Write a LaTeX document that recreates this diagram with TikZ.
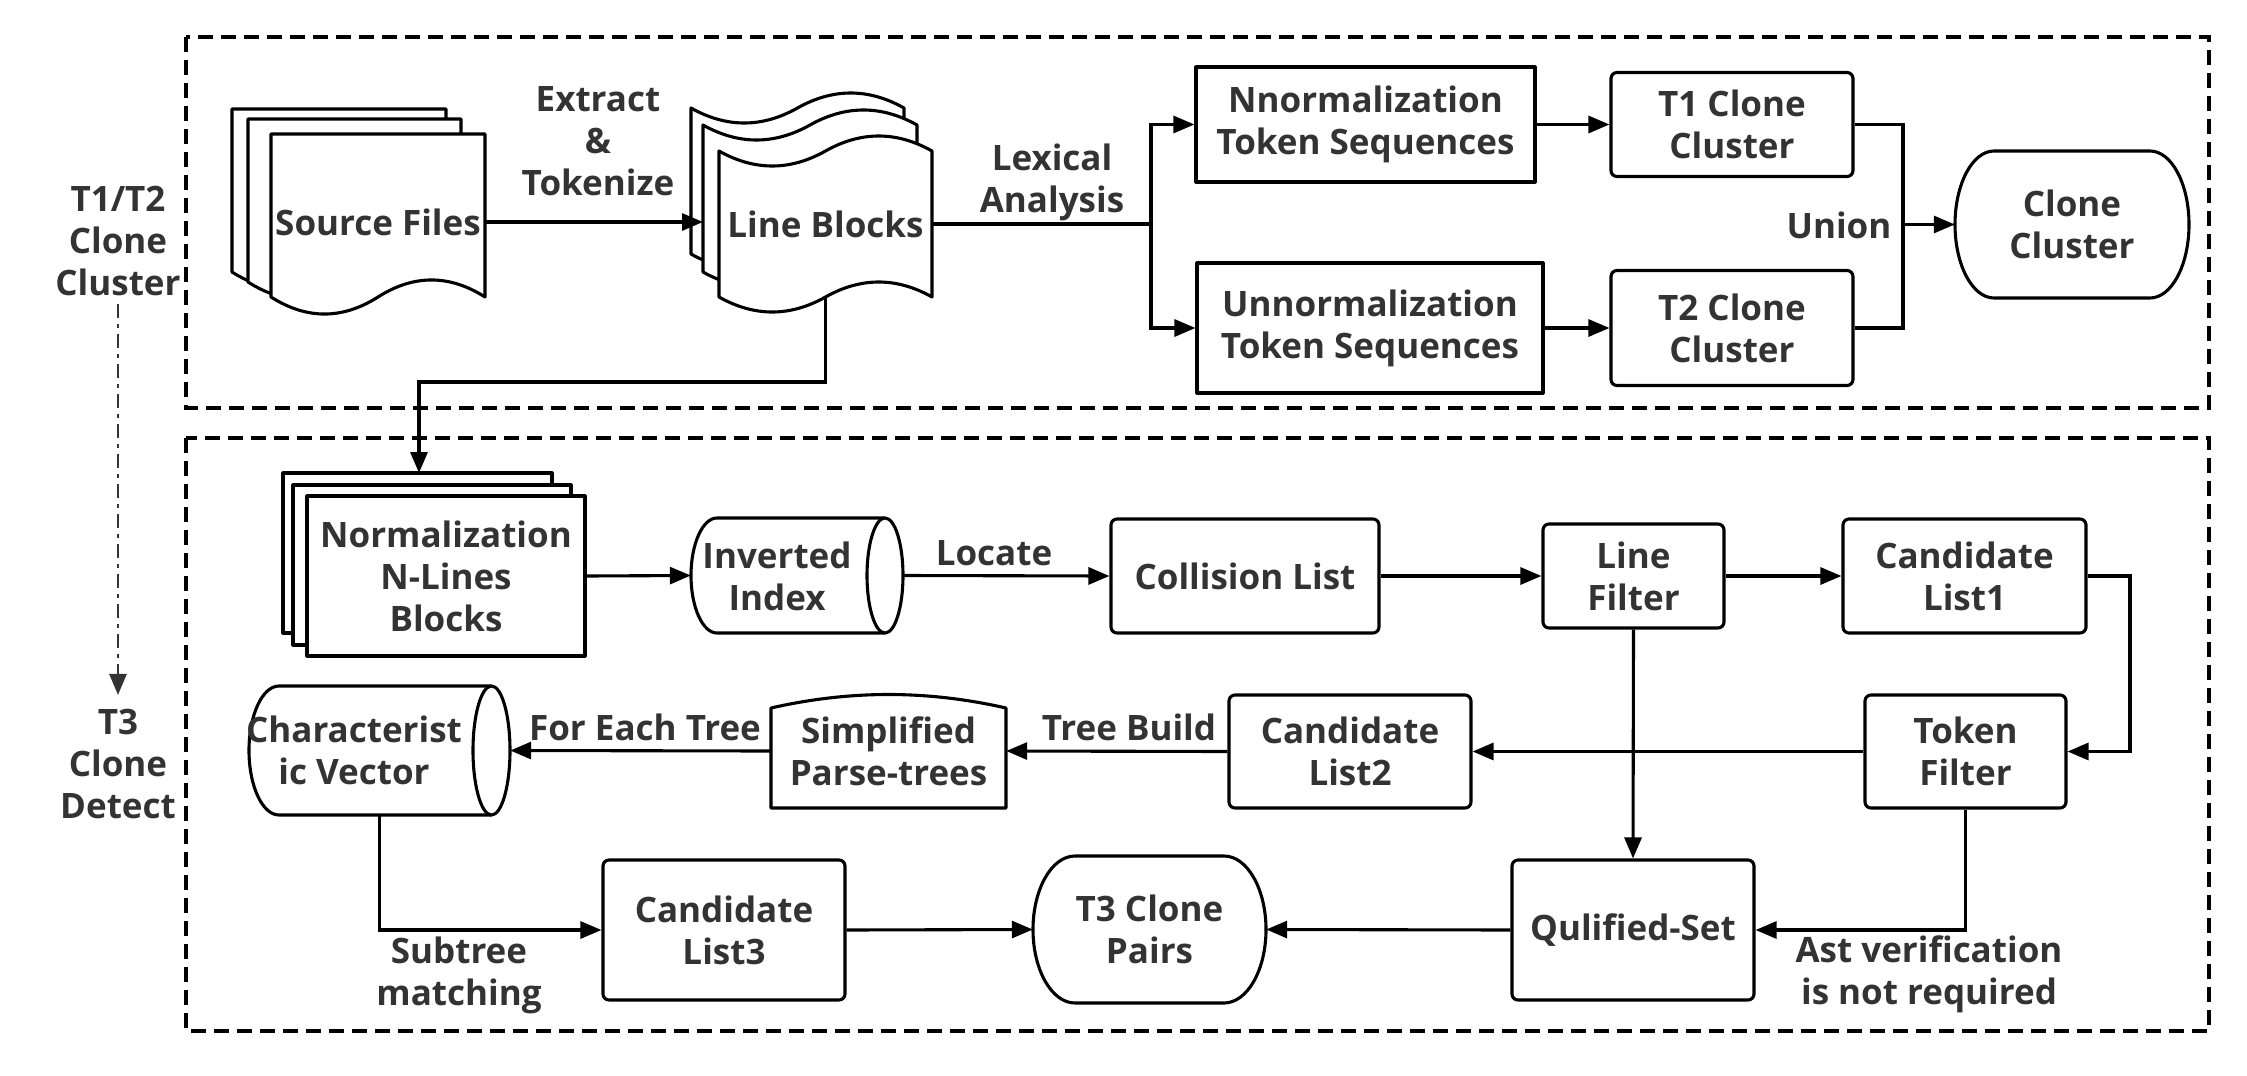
\documentclass[tikz,border=0pt]{standalone}
\usepackage{fontspec}
\setmainfont{Open Sans}
\usetikzlibrary{arrows.meta,calc}
\definecolor{tgray}{HTML}{333333}
% document sheet: L T W H (wavy bottom)
\newcommand\docsheet[4]{%
 \filldraw[shp] (#1,#2) -- ({#1+#3},#2) -- ({#1+#3},{#2+#4})
  .. controls ({#1+#3*5/6},{#2+#4-22.7}) and ({#1+#3*2/3},{#2+#4-22.7}) .. ({#1+#3/2},{#2+#4})
  .. controls ({#1+#3/3},{#2+#4+22.7}) and ({#1+#3/6},{#2+#4+22.7}) .. (#1,{#2+#4}) -- cycle;}
% tape sheet: L T W H (wavy top and bottom)
\newcommand\tapesheet[4]{%
 \filldraw[shp] (#1,#2)
  .. controls ({#1+#3/6},{#2+20}) and ({#1+#3/3},{#2+20}) .. ({#1+#3/2},#2)
  .. controls ({#1+#3*2/3},{#2-20}) and ({#1+#3*5/6},{#2-20}) .. ({#1+#3},#2)
  -- ({#1+#3},{#2+#4})
  .. controls ({#1+#3*5/6},{#2+#4-20}) and ({#1+#3*2/3},{#2+#4-20}) .. ({#1+#3/2},{#2+#4})
  .. controls ({#1+#3/3},{#2+#4+20}) and ({#1+#3/6},{#2+#4+20}) .. (#1,{#2+#4}) -- cycle;}
% terminator: L T R B rx
\newcommand\termshape[5]{%
 \filldraw[shp] ({#1+#5},#2) -- ({#3-#5},#2)
  .. controls ({#3-#5+0.5523*#5},#2) and (#3,{(#2+#4)/2-0.5523*(#4-#2)/2}) .. (#3,{(#2+#4)/2})
  .. controls (#3,{(#2+#4)/2+0.5523*(#4-#2)/2}) and ({#3-#5+0.5523*#5},#4) .. ({#3-#5},#4)
  -- ({#1+#5},#4)
  .. controls ({#1+#5-0.5523*#5},#4) and (#1,{(#2+#4)/2+0.5523*(#4-#2)/2}) .. (#1,{(#2+#4)/2})
  .. controls (#1,{(#2+#4)/2-0.5523*(#4-#2)/2}) and ({#1+#5-0.5523*#5},#2) .. ({#1+#5},#2) -- cycle;}
% horizontal cylinder: L T R B rxLeft rxRight
\newcommand\hcyl[6]{%
 \filldraw[shp] ({#1+#5},#2) -- ({#3-#6},#2)
  .. controls ({#3-#6+0.5523*#6},#2) and (#3,{(#2+#4)/2-0.5523*(#4-#2)/2}) .. (#3,{(#2+#4)/2})
  .. controls (#3,{(#2+#4)/2+0.5523*(#4-#2)/2}) and ({#3-#6+0.5523*#6},#4) .. ({#3-#6},#4)
  -- ({#1+#5},#4)
  .. controls ({#1+#5-0.5523*#5},#4) and (#1,{(#2+#4)/2+0.5523*(#4-#2)/2}) .. (#1,{(#2+#4)/2})
  .. controls (#1,{(#2+#4)/2-0.5523*(#4-#2)/2}) and ({#1+#5-0.5523*#5},#2) .. ({#1+#5},#2) -- cycle;
 \draw[shp] ({#3-#6},#2)
  .. controls ({#3-#6-0.5523*#6},#2) and ({#3-2*#6},{(#2+#4)/2-0.5523*(#4-#2)/2}) .. ({#3-2*#6},{(#2+#4)/2})
  .. controls ({#3-2*#6},{(#2+#4)/2+0.5523*(#4-#2)/2}) and ({#3-#6-0.5523*#6},#4) .. ({#3-#6},#4);}
\begin{document}
\begin{tikzpicture}[x=1pt,y=-1pt,
  ln/.style={line width=3.1pt, draw=black},
  shp/.style={line width=3.1pt, draw=black, fill=white, line join=round},
  txt/.style={font=\fontsize{35}{42}\selectfont\bfseries, text=tgray, align=center, inner sep=0pt},
  pbox/.style={txt, shp},
  rbox/.style={txt, shp, rounded corners=6pt},
  free/.style={txt, draw=none},
  arr/.style={ln, -{Triangle[length=21pt,width=17pt]}},
  frame/.style={line width=3.1pt, dash pattern=on 15pt off 8pt},
  dd/.style={line width=2.8pt, draw=tgray, dash pattern=on 14pt off 6pt on 4pt off 6pt, -{Triangle[length=21pt,width=17pt]}}
]
\useasboundingbox (0,0) rectangle (2247,1076);
% frames
\draw[frame] (186,37) rectangle (2209,408);
\draw[frame] (186,438) rectangle (2209,1031);
% left labels
\node[free] (t12) at (118,241) {T1/T2\\Clone\\Cluster};
\node[free] (t3d) at (118,764) {T3\\Clone\\Detect};
% ---------- top part ----------
\docsheet{232}{109}{214}{163}
\docsheet{248}{119}{213}{163}
\docsheet{271}{134}{214}{163}
\node[free, minimum width=214, minimum height=176] (src) at (378,222) {Source Files};
\tapesheet{691}{108}{213}{146}
\tapesheet{703}{125}{214}{147}
\tapesheet{719}{151}{213}{146}
\node[free, minimum width=213, minimum height=146] (lb) at (825.5,224) {Line Blocks};
\node[free] (extl) at (598,141) {Extract\\\&\\Tokenize};
\node[free] (lexl) at (1052,182) {Lexical\\Analysis};
\node[pbox, minimum width=339, minimum height=115] (nts) at (1365.5,124.5) {Nnormalization\\Token Sequences};
\node[pbox, minimum width=346, minimum height=130] (uts) at (1370,328) {Unnormalization\\Token Sequences};
\node[rbox, minimum width=242, minimum height=104] (t1) at (1732,124.5) {T1 Clone\\Cluster};
\node[rbox, minimum width=242, minimum height=115] (t2) at (1732,328) {T2 Clone\\Cluster};
\termshape{1955}{151}{2189}{298}{39}
\node[free, minimum width=234, minimum height=147] (cc) at (2072,224.5) {Clone\\Cluster};
\node[free] (unionl) at (1839,225) {Union};
\coordinate (lbin) at (703,222);
\coordinate (split) at (1151,224);
\coordinate (ujoin) at (1903,224.5);
\coordinate (lbturn) at (419,382);
\coordinate (nlin) at (419,473);
% ---------- bottom part ----------
\draw[shp] (283,473) rectangle (552,633);
\draw[shp] (293,485) rectangle (571,645);
\node[pbox, minimum width=278, minimum height=160] (nl) at (446,576) {Normalization\\N-Lines\\Blocks};
\hcyl{691}{518}{903}{633}{26}{18}
\node[free, minimum width=212, minimum height=115] (inv) at (797,575.5) {};
\node[free] (invt) at (777,576) {Inverted\\Index};
\node[free] (locl) at (994,553) {Locate};
\node[rbox, minimum width=268, minimum height=114] (col) at (1245,576) {Collision List};
\node[rbox, minimum width=181, minimum height=104] (lf) at (1633.5,576) {Line\\Filter};
\node[rbox, minimum width=243, minimum height=114] (cl1) at (1964.5,576) {Candidate\\List1};
\node[rbox, minimum width=201, minimum height=113] (tf) at (1965.5,751.5) {Token\\Filter};
\node[rbox, minimum width=242, minimum height=113] (cl2) at (1350,751.5) {Candidate\\List2};
\filldraw[shp] (771,808) -- (771,708) .. controls (850,690) and (927,690) .. (1006,708) -- (1006,808) -- cycle;
\node[free, minimum width=235, minimum height=114] (sp) at (888.5,751) {Simplified\\Parse-trees};
\hcyl{249}{686}{510}{815}{30}{18.5}
\node[free, minimum width=261, minimum height=129] (cv) at (379.5,750.5) {};
\node[free] (cvt) at (354,750.5) {Characterist\\ic Vector};
\node[free] (treel) at (1129,727) {Tree Build};
\node[free] (forl) at (645,727) {For Each Tree};
\node[rbox, minimum width=242, minimum height=140] (cl3) at (724,930) {Candidate\\List3};
\termshape{1033}{856}{1266}{1003}{42}
\node[free, minimum width=233, minimum height=147] (t3) at (1149.5,929.5) {T3 Clone\\Pairs};
\node[rbox, minimum width=242, minimum height=140] (qs) at (1633,930) {Qulified-Set};
\node[free] (subl) at (459,975) {Subtree\\matching};
\node[free] (astl) at (1929,974) {Ast verification\\is not required};
\coordinate (c1turn) at (2130,576);
% ---------- connectors ----------
\draw[arr] (src.east) -- (lbin);
\draw[ln] (lb.east) -- (split);
\draw[arr] (split) |- (nts.west);
\draw[arr] (split) |- (uts.west);
\draw[arr] (nts.east) -- (t1.west);
\draw[arr] (uts.east) -- (t2.west);
\draw[ln] (t1.east) -| (ujoin);
\draw[ln] (t2.east) -| (ujoin);
\draw[arr] (ujoin) -- (cc.west);
\draw[arr] (lb.south) |- (lbturn) -- (nlin);
\draw[arr] (nl.east) -- (inv.west);
\draw[arr] (inv.east) -- (col.west);
\draw[arr] (col.east) -- (lf.west);
\draw[arr] (lf.east) -- (cl1.west);
\draw[arr] (cl1.east) -- (c1turn) |- (tf.east);
\draw[arr] (tf.west) -- (cl2.east);
\draw[arr] (cl2.west) -- (sp.east);
\draw[arr] (sp.west) -- (cv.east);
\draw[arr] (cv.south) |- (cl3.west);
\draw[arr] (cl3.east) -- (t3.west);
\draw[arr] (qs.west) -- (t3.east);
\draw[arr] (lf.south) -- (qs.north);
\draw[arr] (tf.south) |- (qs.east);
\draw[dd, shorten <=8pt, shorten >=14pt] (t12.south) -- (t3d.north);
\end{tikzpicture}
\end{document}
